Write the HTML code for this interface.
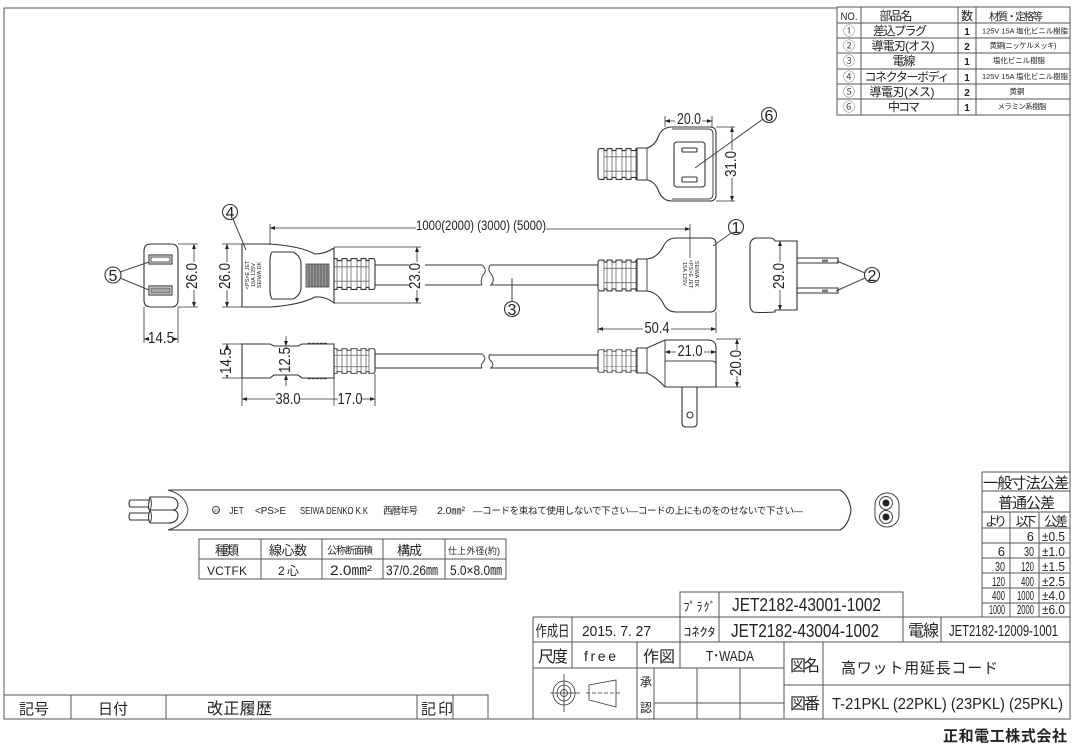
<!DOCTYPE html>
<html><head><meta charset="utf-8"><style>
html,body{margin:0;padding:0;background:#fff;width:1075px;height:750px;overflow:hidden}
svg{display:block}
text{font-family:"Liberation Sans","Noto Sans CJK JP",sans-serif;fill:#222;text-anchor:middle}
.l{fill:none;stroke:#444;stroke-width:1}
.t{fill:none;stroke:#555;stroke-width:1}
.o{fill:#fff;stroke:#333;stroke-width:1.1}
.d{fill:none;stroke:#333;stroke-width:.8}
.m{font-size:16px}.b{font-size:16px}
.e text{text-anchor:end}
</style></head><body>
<svg width="1075" height="750" viewBox="0 0 1075 750" xmlns="http://www.w3.org/2000/svg">
<defs>
<g id="rib">
<path class="o" d="M0-15H3V-13H8V-15H13V-13H17V-15H23V-13H27V-15H32V-13H35V-15H39Q41-15 41-12V12Q41 15 39 15H35V13H32V15H27V13H23V15H17V13H13V15H8V13H3V15H0Z" stroke-linejoin="round"/>
<path d="M3-13V13M8-13V13M13-13V13M17-13V13M23-13V13M27-13V13M32-13V13M35-13V13M0-7H35M0 7H35" fill="none" stroke="#666" stroke-width=".8"/>
</g>
<marker id="a" markerWidth="7" markerHeight="5" refX="6.5" refY="2.5" orient="auto-start-reverse"><path d="M0 0L7 2.500L0 5Z" fill="#222"/></marker>
</defs>

<!-- frame -->
<path class="t" d="M837 8H4V719H1070V115"/>

<!-- parts table -->
<path class="t" d="M837 7H1070V115H837ZM837 23H1070M837 38H1070M837 53H1070M837 69H1070M837 84H1070M837 99H1070M861 7V115M958 7V115M976 7V115"/>
<text x="849" y="20" font-size="11" textLength="17" lengthAdjust="spacingAndGlyphs">NO.</text>
<text x="896" y="20" font-size="12" textLength="33">部品名</text><text x="967" y="20" font-size="12">数</text><text x="1016" y="20" font-size="10.500" textLength="54">材質・定格等</text>
<g font-size="12"><text x="849" y="35" style="fill:#555">①</text><text x="849" y="50" style="fill:#555">②</text><text x="849" y="65" style="fill:#555">③</text><text x="849" y="81" style="fill:#555">④</text><text x="849" y="96" style="fill:#555">⑤</text><text x="849" y="111" style="fill:#555">⑥</text></g>
<g font-size="12"><text x="900" y="35" textLength="54">差込プラグ</text><text x="903" y="50" textLength="63">導電刃(オス)</text><text x="904" y="65" textLength="23">電線</text><text x="907" y="81" textLength="85">コネクターボディ</text><text x="902" y="96" textLength="65">導電刃(メス)</text><text x="904" y="111" textLength="32">中コマ</text></g>
<g font-size="10" font-weight="bold"><text x="967" y="35">1</text><text x="967" y="50">2</text><text x="967" y="65">1</text><text x="967" y="81">1</text><text x="967" y="96">2</text><text x="967" y="111">1</text></g>
<g font-size="7.500"><text x="1025" y="33.500" textLength="86" lengthAdjust="spacingAndGlyphs">125V 15A 塩化ビニル樹脂</text><text x="1023" y="48" textLength="67">黄銅(ニッケルメッキ)</text><text x="1019" y="63" textLength="52">塩化ビニル樹脂</text><text x="1025" y="79" textLength="86" lengthAdjust="spacingAndGlyphs">125V 15A 塩化ビニル樹脂</text><text x="1017" y="94" textLength="15">黄銅</text><text x="1022" y="109" textLength="49">メラミン系樹脂</text></g>

<!-- top socket view -->
<use href="#rib" transform="translate(639,164) scale(-1,1.03)"/>
<path class="o" d="M637 148H647Q655 146 659 135Q663 127 672 127H710Q716 127 716 133V195Q716 201 710 201H672Q663 201 659 192Q655 181 647 180H637Z"/>
<path class="l" d="M647 148V180M672 129H708Q713 129 713 134V194Q713 199 708 199H672"/>
<rect class="o" x="674" y="142" width="31" height="45" rx="3"/>
<rect class="o" x="682" y="148" width="15" height="4" rx="1"/>
<rect class="o" x="682" y="177" width="15" height="5" rx="1"/>
<path class="d" d="M665 127V116M712 127V116"/>
<path class="d" d="M665 121H712" marker-start="url(#a)" marker-end="url(#a)"/>
<rect x="675" y="113" width="27" height="13" fill="#fff"/>
<text x="689" y="124" class="m" textLength="24" lengthAdjust="spacingAndGlyphs">20.0</text>
<path class="d" d="M716 127H735M716 201H735"/>
<path class="d" d="M732 127V201" marker-start="url(#a)" marker-end="url(#a)"/>
<rect x="724" y="150" width="16" height="28" fill="#fff"/>
<text transform="translate(736,164) rotate(-90)" class="m" textLength="26" lengthAdjust="spacingAndGlyphs">31.0</text>
<circle class="o" cx="769" cy="115" r="7.500"/><text x="769" y="121" class="b">6</text>
<path class="l" d="M763 119L695 168"/>

<!-- socket front -->
<path class="o" d="M178 251V300Q178 307 171 307H151Q144 307 144 300V251Q144 244 151 244H171Q178 244 178 251Z"/>
<rect class="o" x="149" y="255" width="23" height="9"/><rect class="l" x="151" y="257" width="19" height="5"/>
<rect class="o" x="149" y="286" width="23" height="9"/><rect x="151" y="288" width="19" height="5" fill="#aaa" stroke="#444" stroke-width=".8"/>
<path class="d" d="M144 307V343M178 307V343"/>
<path class="d" d="M144 339H178" marker-start="url(#a)" marker-end="url(#a)"/>
<rect x="149" y="331" width="24" height="15" fill="#fff"/>
<text x="161" y="343" class="m" textLength="26" lengthAdjust="spacingAndGlyphs">14.5</text>
<path class="d" d="M178 244H198M178 307H198"/>
<path class="d" d="M194 244V307" marker-start="url(#a)" marker-end="url(#a)"/>
<rect x="186" y="262" width="16" height="28" fill="#fff"/>
<text transform="translate(197,276) rotate(-90)" class="m" textLength="26" lengthAdjust="spacingAndGlyphs">26.0</text>
<circle class="o" cx="113" cy="275" r="8"/><text x="113" y="281" class="b">5</text>
<path class="l" d="M120 272L149 262M120 278L149 290"/>

<!-- connector top -->
<path class="o" d="M375 265H482M375 285H482"/>
<path class="l" d="M482 265Q488 270 483 275Q480 281 482 285"/>
<path class="l" d="M490 265Q487 270 492 275Q495 281 491 285"/>
<use href="#rib" transform="translate(334,274) scale(1,1.03)"/>
<path class="o" d="M242 244H270Q300 246 315 254Q325 254 334 248V303Q325 296 315 297Q300 305 270 307H242Z"/>
<path class="o" d="M272 252H293Q301 256 301 264V287Q301 295 293 299H272Q270 296 270 290V261Q270 255 272 252Z"/>
<rect x="306" y="264" width="23" height="23" fill="#999" stroke="#444" stroke-width=".8"/>
<path d="M309 264V287M312 264V287M315 264V287M318 264V287M321 264V287M324 264V287M327 264V287" stroke="#444" stroke-width=".8"/>
<g font-size="5.500" transform="translate(255,275) rotate(-90)"><text y="-6">&lt;PS&gt;E JET</text><text y="0">15A 125V</text><text y="6">SEIWA DK</text></g>
<path class="d" d="M242 244H222M242 307H222"/>
<path class="d" d="M227 244V307" marker-start="url(#a)" marker-end="url(#a)"/>
<rect x="219" y="262" width="16" height="28" fill="#fff"/>
<text transform="translate(230,276) rotate(-90)" class="m" textLength="26" lengthAdjust="spacingAndGlyphs">26.0</text>
<path class="d" d="M334 247H421M334 303H421"/>
<path class="d" d="M417 247V303" marker-start="url(#a)" marker-end="url(#a)"/>
<rect x="409" y="262" width="16" height="28" fill="#fff"/>
<text transform="translate(420,276) rotate(-90)" class="m" textLength="26" lengthAdjust="spacingAndGlyphs">23.0</text>
<circle class="o" cx="230" cy="212" r="7.500"/><text x="230" y="218" class="b">4</text>
<path class="l" d="M233 219L246 250"/>
<path class="d" d="M270 245V224"/>
<path class="d" d="M270 228H416" marker-start="url(#a)"/>
<path class="d" d="M546 229H690" marker-end="url(#a)"/>
<text x="481" y="230" font-size="14" textLength="130" lengthAdjust="spacingAndGlyphs">1000(2000) (3000) (5000)</text>

<!-- plug top -->
<path class="o" d="M490 265H598M490 285H598"/>
<use href="#rib" transform="translate(639,275.500) scale(-1,1.03)"/>
<path class="o" d="M637 259H647Q657 258 663 247Q667 238 676 238H710Q716 238 716 244V306Q716 312 710 312H676Q667 312 663 303Q657 292 647 291H637Z"/>
<path class="l" d="M647 259V291"/>
<path class="d" d="M690 224V258"/>
<g font-size="5.500" transform="translate(689,274) rotate(90)"><text y="-6">SEIWA DK</text><text y="0">&lt;PS&gt;E JET</text><text y="6">15A 125V</text></g>
<path class="d" d="M598 291V333M716 312V333"/>
<path class="d" d="M598 329H716" marker-start="url(#a)" marker-end="url(#a)"/>
<rect x="643" y="321" width="28" height="15" fill="#fff"/>
<text x="657" y="333" class="m" textLength="25" lengthAdjust="spacingAndGlyphs">50.4</text>
<circle class="o" cx="736" cy="227" r="7.500"/><text x="736" y="233" class="b">1</text>
<path class="l" d="M731 233L713 246"/>
<circle class="o" cx="512" cy="309" r="7.500"/><text x="512" y="315" class="b">3</text>
<path class="l" d="M512 278V301"/>

<!-- plug end -->
<path class="o" d="M797 241V310H775V312Q760 313 753 312Q750 309 750 305V245Q750 240 755 238H770Q774 238 775 241Z"/>
<path class="d" d="M780 241V310" marker-start="url(#a)" marker-end="url(#a)"/>
<rect x="770" y="262" width="18" height="28" fill="#fff"/>
<text transform="translate(784,276) rotate(-90)" class="m" textLength="26" lengthAdjust="spacingAndGlyphs">29.0</text>
<path class="o" d="M797 258H838V263H797ZM797 288H838V293H797Z"/>
<rect x="822" y="259.500" width="6" height="2.500" fill="#777"/>
<rect x="822" y="289.500" width="6" height="2.500" fill="#777"/>
<circle class="o" cx="872" cy="275" r="7.500"/><text x="872" y="281" class="b">2</text>
<path class="l" d="M865 273L837 261M865 278L836 291"/>

<!-- connector side -->
<path class="o" d="M375 354H482M375 368H482"/>
<path class="l" d="M482 354Q487 358 483 362Q480 366 482 368"/>
<path class="l" d="M490 354Q487 358 492 362Q494 366 491 368"/>
<use href="#rib" transform="translate(334,361) scale(1,.82)"/>
<path class="o" d="M242 344H270L274 346H298L302 344H334V378H302L298 375H274L270 378H242Z"/>
<path class="d" d="M307 344q3-2 4 0q3-2 4 0q3-2 4 0q3-2 4 0q3-2 4 0M307 378q3 2 4 0q3 2 4 0q3 2 4 0q3 2 4 0q3 2 4 0"/>
<path class="d" d="M242 344H222M242 378H222M242 378V406M334 378V406M375 374V406"/>
<path class="d" d="M286 336V346" marker-end="url(#a)"/>
<path class="d" d="M286 386V375" marker-end="url(#a)"/>
<path class="d" d="M227 344V378" marker-start="url(#a)" marker-end="url(#a)"/>
<rect x="219" y="349" width="16" height="26" fill="#fff"/>
<text transform="translate(231,361) rotate(-90)" class="m" textLength="26" lengthAdjust="spacingAndGlyphs">14.5</text>
<text transform="translate(290,360) rotate(-90)" class="m" textLength="26" lengthAdjust="spacingAndGlyphs">12.5</text>
<path class="d" d="M242 399H275" marker-start="url(#a)"/>
<path class="d" d="M300 399H338"/>
<path class="d" d="M362 399H375" marker-end="url(#a)"/>
<text x="288" y="404" class="m" textLength="25" lengthAdjust="spacingAndGlyphs">38.0</text>
<text x="350" y="404" class="m" textLength="25" lengthAdjust="spacingAndGlyphs">17.0</text>

<!-- plug side -->
<path class="o" d="M490 355H598M490 368H598"/>
<use href="#rib" transform="translate(639,361) scale(-1,.75)"/>
<path class="o" d="M682 387H697V423Q697 427 693 427H686Q682 427 682 423Z"/>
<circle class="o" cx="690" cy="415" r="3"/>
<path class="o" d="M637 348H647L665 340H708Q716 340 716 348V387H665Q657 378 647 373H637Z"/>
<path class="l" d="M647 348V373M665 340V387M665 361H712Q716 361 716 365"/>
<path class="d" d="M665 352H716" marker-start="url(#a)" marker-end="url(#a)"/>
<rect x="676" y="344" width="28" height="15" fill="#fff"/>
<text x="690" y="356" class="m" textLength="25" lengthAdjust="spacingAndGlyphs">21.0</text>
<path class="d" d="M716 339H741M716 387H741"/>
<path class="d" d="M737 339V387" marker-start="url(#a)" marker-end="url(#a)"/>
<rect x="729" y="350" width="16" height="26" fill="#fff"/>
<text transform="translate(741,363) rotate(-90)" class="m" textLength="26" lengthAdjust="spacingAndGlyphs">20.0</text>

<!-- cable band -->
<path class="o" d="M168 490H840Q849 495 851 510Q849 525 840 530H168"/>
<path class="l" d="M168 490Q186 495 188 510Q186 525 168 530"/>
<path class="o" d="M130 500H150V507H130Q128 503.500 130 500ZM130 513H150V520H130Q128 516.500 130 513Z"/>
<path class="o" d="M150 497H168Q177 497 178 504Q178 510 172 510H150Q147 510 150 497Z"/>
<path class="o" d="M150 510H172Q178 510 178 516Q177 523 168 523H150Q147 518 150 510Z"/>
<path class="l" d="M150 497Q153 503 150 510Q153 517 150 523"/>
<circle class="l" cx="216" cy="510" r="3.500"/><text x="216" y="512" font-size="4">JIS</text>
<text x="236.500" y="514" font-size="10.500" textLength="14" lengthAdjust="spacingAndGlyphs">JET</text>
<text x="270.500" y="514" font-size="10.500" textLength="31" lengthAdjust="spacingAndGlyphs">&lt;PS&gt;E</text>
<text x="334" y="514" font-size="10.500" textLength="68" lengthAdjust="spacingAndGlyphs">SEIWA DENKO K.K</text>
<text x="400.500" y="514" font-size="9.500" textLength="35">西暦年号</text>
<text x="451" y="514" font-size="10.500" textLength="28" lengthAdjust="spacingAndGlyphs">2.0㎜²</text>
<text x="638" y="514" font-size="9.500" textLength="330">―コードを束ねて使用しないで下さい―コードの上にものをのせないで下さい―</text>
<rect class="l" x="875" y="493" width="24" height="34" rx="12"/>
<circle class="l" cx="886" cy="503" r="6.500"/><circle class="l" cx="886" cy="517" r="6.500"/>
<circle cx="886" cy="503" r="3.500" fill="#222"/><circle cx="886" cy="517" r="3.500" fill="#222"/>

<!-- cable table -->
<path class="t" d="M199 539H506V579H199ZM199 559H506M261 539V579M322 539V579M383 539V579M445 539V579"/>
<text x="227" y="555" font-size="13" textLength="24">種類</text><text x="288" y="555" font-size="13" textLength="38">線心数</text><text x="350" y="554" font-size="10" textLength="46">公称断面積</text><text x="409.500" y="555" font-size="13" textLength="25">構成</text><text x="474" y="554" font-size="9" textLength="52">仕上外径(約)</text>
<text x="227" y="575" font-size="12" textLength="40">VCTFK</text><text x="288.500" y="575" font-size="12" textLength="21">2心</text><text x="351" y="575" font-size="14" textLength="42" lengthAdjust="spacingAndGlyphs">2.0㎜²</text><text x="412" y="575" font-size="14" textLength="52" lengthAdjust="spacingAndGlyphs">37/0.26㎜</text><text x="476" y="575" font-size="14" textLength="52" lengthAdjust="spacingAndGlyphs">5.0×8.0㎜</text>

<!-- tolerance table -->
<path class="t" d="M982 472H1070M982 491H1070M982 512H1070M982 528H1070M982 543H1070M982 558H1070M982 573H1070M982 588H1070M982 603H1070M982 617H1070M982 472V617M1010 512V617M1039 512V617"/>
<text x="1026" y="488" font-size="15" textLength="86">一般寸法公差</text>
<text x="1026.500" y="508" font-size="15" textLength="57">普通公差</text>
<text x="996" y="526" font-size="13" textLength="22">より</text><text x="1026" y="526" font-size="13" textLength="21">以下</text><text x="1056" y="526" font-size="13" textLength="24">公差</text>
<g font-size="13" class="e">
<text x="1034" y="541">6</text><text x="1065" y="541" textLength="23" lengthAdjust="spacingAndGlyphs">±0.5</text>
<text x="1005" y="556">6</text><text x="1034" y="556" textLength="10" lengthAdjust="spacingAndGlyphs">30</text><text x="1065" y="556" textLength="23" lengthAdjust="spacingAndGlyphs">±1.0</text>
<text x="1005" y="571" textLength="10" lengthAdjust="spacingAndGlyphs">30</text><text x="1034" y="571" textLength="13" lengthAdjust="spacingAndGlyphs">120</text><text x="1065" y="571" textLength="23" lengthAdjust="spacingAndGlyphs">±1.5</text>
<text x="1005" y="586" textLength="13" lengthAdjust="spacingAndGlyphs">120</text><text x="1034" y="586" textLength="13" lengthAdjust="spacingAndGlyphs">400</text><text x="1065" y="586" textLength="23" lengthAdjust="spacingAndGlyphs">±2.5</text>
<text x="1005" y="600" textLength="13" lengthAdjust="spacingAndGlyphs">400</text><text x="1034" y="600" textLength="17" lengthAdjust="spacingAndGlyphs">1000</text><text x="1065" y="600" textLength="23" lengthAdjust="spacingAndGlyphs">±4.0</text>
<text x="1005" y="614" textLength="16" lengthAdjust="spacingAndGlyphs">1000</text><text x="1034" y="614" textLength="17" lengthAdjust="spacingAndGlyphs">2000</text><text x="1065" y="614" textLength="23" lengthAdjust="spacingAndGlyphs">±6.0</text>
</g>

<!-- title block -->
<path class="t" d="M680 617V592H903V642M719 592V642M533 617H1070M533 642H1070M533 668H784M533 617V719M572 617V668M637 642V719M654 668V719M680 617V668M697 668V719M740 668V719M654 703H784M784 642V719M823 642V719M784 685H1070M941 617V642"/>
<text x="699.500" y="611" font-size="12" textLength="32">ﾌﾟﾗｸﾞ</text><text x="699.500" y="636" font-size="12" textLength="32" lengthAdjust="spacingAndGlyphs">ｺﾈｸﾀ</text>
<text x="806.500" y="611" font-size="18" textLength="149" lengthAdjust="spacingAndGlyphs">JET2182-43001-1002</text>
<text x="805" y="637" font-size="18" textLength="148" lengthAdjust="spacingAndGlyphs">JET2182-43004-1002</text>
<text x="552.500" y="636" font-size="15" textLength="34" lengthAdjust="spacingAndGlyphs">作成日</text>
<text x="616.500" y="636" font-size="15" textLength="69" lengthAdjust="spacingAndGlyphs">2015. 7. 27</text>
<text x="923.500" y="636" font-size="16" textLength="31">電線</text>
<text x="1003.500" y="636" font-size="16" textLength="109" lengthAdjust="spacingAndGlyphs">JET2182-12009-1001</text>
<text x="553" y="662" font-size="16" textLength="30">尺度</text><text x="600" y="661" font-size="14" textLength="32">free</text>
<text x="659" y="662" font-size="16" textLength="32">作図</text><text x="730" y="661" font-size="15" textLength="48" lengthAdjust="spacingAndGlyphs">T･WADA</text>
<text x="805" y="671" font-size="16" textLength="30">図名</text><text x="919.500" y="673" font-size="15" textLength="157">高ワット用延長コード</text>
<text x="805" y="709" font-size="16" textLength="30">図番</text><text x="947.500" y="709" font-size="16" textLength="231" lengthAdjust="spacingAndGlyphs">T-21PKL (22PKL) (23PKL) (25PKL)</text>
<text x="646" y="686" font-size="12">承</text><text x="646" y="712" font-size="12">認</text>
<ellipse class="d" cx="564" cy="693" rx="11" ry="12"/><ellipse class="d" cx="564" cy="693" rx="7" ry="8"/><circle class="d" cx="564" cy="693" r="3.500"/><path class="d" d="M550 693H580M564 674V712"/>
<path class="d" d="M589 685L616 680V707L589 700Z"/><path class="d" d="M586 693H620" stroke-dasharray="4 2"/>
<text x="1005" y="741" font-size="15" font-weight="bold" textLength="124">正和電工株式会社</text>

<!-- revision -->
<path class="t" d="M4 695H488V719M71 695V719M166 695V719M417 695V719M453 695V719"/>
<text x="34" y="714" font-size="15" textLength="30">記号</text><text x="113" y="714" font-size="15" textLength="30">日付</text><text x="239.500" y="714" font-size="16" textLength="65">改正履歴</text><text x="437" y="714" font-size="15" textLength="32">記印</text>
</svg>
</body></html>
